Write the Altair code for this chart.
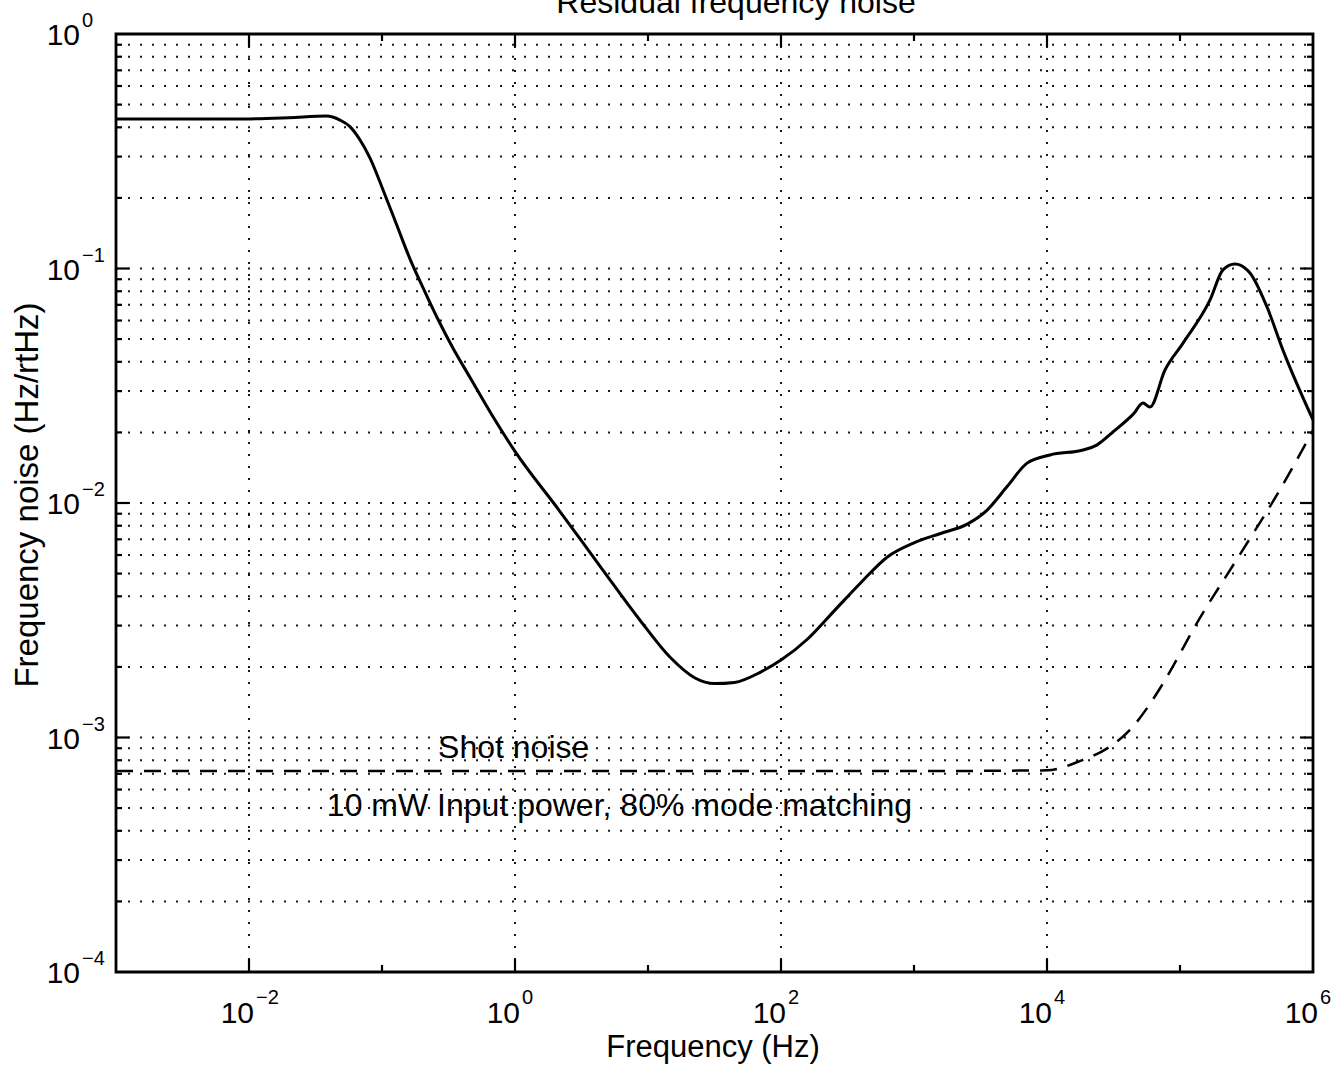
import altair as alt
import pandas as pd

W, H = 1197, 938
FONT = "Liberation Sans"

# ---- data (log10 values) ----
solid_logf = [-3.0, -2.5, -2.0, -1.7, -1.416, -1.316, -1.241, -1.165, -1.09, -0.992, -0.887,
              -0.789, -0.692, -0.587, -0.466, -0.338, -0.17, 0.0, 0.33, 0.64, 0.94, 1.17, 1.35,
              1.5, 1.65, 1.85, 2.0, 2.2, 2.4, 2.6, 2.8, 3.0, 3.2, 3.4, 3.55, 3.7, 3.85, 4.023,
              4.271, 4.374, 4.496, 4.65, 4.722, 4.774, 4.887, 5.023, 5.226, 5.323, 5.414, 5.504,
              5.526, 5.654, 5.774, 6.0]
solid_logy = [-0.363, -0.363, -0.362, -0.357, -0.350, -0.367, -0.395, -0.452, -0.529, -0.665,
              -0.818, -0.960, -1.082, -1.208, -1.340, -1.465, -1.628, -1.78, -2.03, -2.27, -2.50,
              -2.66, -2.745, -2.77, -2.765, -2.72, -2.67, -2.58, -2.46, -2.34, -2.23, -2.17, -2.13,
              -2.09, -2.03, -1.93, -1.83, -1.795, -1.774, -1.753, -1.697, -1.62, -1.574, -1.591,
              -1.433, -1.318, -1.134, -1.006, -0.981, -1.006, -1.019, -1.164, -1.348, -1.646]

dash_logf = [-3.0, 0.0, 3.0, 4.0, 4.25, 4.47, 4.62, 4.77, 4.85, 5.15, 5.45, 5.75, 6.0]
dash_logy = [-3.143, -3.143, -3.143, -3.14, -3.10, -3.04, -2.97, -2.86, -2.79, -2.49, -2.22, -1.945, -1.69]

x_label_exps = [-2, 0, 2, 4, 6]
y_label_exps = [0, -1, -2, -3, -4]
x_grid_exps = [-2, 0, 2, 4]
x_tick_exps = [-3, -2, -1, 0, 1, 2, 3, 4, 5, 6]
y_minor_mults = [2, 3, 4, 5, 6, 7, 8, 9]
y_decades = [-4, -3, -2, -1]

title_text = "Residual frequency noise"
x_title = "Frequency (Hz)"
y_title = "Frequency noise (Hz/rtHz)"
annotations = ["Shot noise", "10 mW Input power, 80% mode matching"]
annot_f = [0.264, 0.0385]
annot_v = [8.2e-4, 4.63e-4]

# ---- tables ----
solid = pd.DataFrame({"f": [10 ** a for a in solid_logf], "v": [10 ** b for b in solid_logy]})
dashed = pd.DataFrame({"f": [10 ** a for a in dash_logf], "v": [10 ** b for b in dash_logy]})
ygrid = pd.DataFrame({"v": [m * 10 ** d for d in y_decades for m in ([1] if d > -4 else []) + y_minor_mults]})
yminor = pd.DataFrame({"v": [m * 10 ** d for d in y_decades for m in y_minor_mults]})
ymajor = pd.DataFrame({"v": [10 ** d for d in y_decades[1:]]})
xgrid = pd.DataFrame({"f": [10.0 ** e for e in x_grid_exps]})
xlong = pd.DataFrame({"f": [10.0 ** e for e in x_tick_exps if e % 2 == 0 and -3 < e < 6]})
xshort = pd.DataFrame({"f": [10.0 ** e for e in x_tick_exps if e % 2 != 0 and -3 < e < 6]})
xlab = pd.DataFrame({"f": [10.0 ** e for e in x_label_exps],
                     "base": ["10"] * len(x_label_exps),
                     "exp": [str(e).replace("-", "\u2212") for e in x_label_exps]})
ylab = pd.DataFrame({"v": [10.0 ** e for e in y_label_exps],
                     "base": ["10"] * len(y_label_exps),
                     "exp": [str(e).replace("-", "\u2212") for e in y_label_exps]})
ann = pd.DataFrame({"f": annot_f, "v": annot_v, "t": annotations})

xs = alt.Scale(type="log", domain=[1e-3, 1e6], nice=False)
ys = alt.Scale(type="log", domain=[1e-4, 1], nice=False)


def X(field):
    return alt.X(f"{field}:Q", scale=xs, axis=None)


def Y(field):
    return alt.Y(f"{field}:Q", scale=ys, axis=None)


dot = dict(color="black", strokeWidth=2, strokeDash=[2, 10], opacity=0.9)

hgrid = alt.Chart(ygrid).mark_rule(**dot).encode(y=Y("v"), x=alt.value(0), x2=alt.value(W))
vgrid = alt.Chart(xgrid).mark_rule(**dot).encode(x=X("f"), y=alt.value(0), y2=alt.value(H))

tk = dict(color="black", strokeWidth=2.2)
ytick_layers = [
    alt.Chart(ymajor).mark_rule(**tk).encode(y=Y("v"), x=alt.value(0), x2=alt.value(13)),
    alt.Chart(ymajor).mark_rule(**tk).encode(y=Y("v"), x=alt.value(W - 13), x2=alt.value(W)),
    alt.Chart(yminor).mark_rule(**tk).encode(y=Y("v"), x=alt.value(0), x2=alt.value(6)),
    alt.Chart(yminor).mark_rule(**tk).encode(y=Y("v"), x=alt.value(W - 6), x2=alt.value(W)),
]
xtick_layers = [
    alt.Chart(xlong).mark_rule(**tk).encode(x=X("f"), y=alt.value(H - 13), y2=alt.value(H)),
    alt.Chart(xlong).mark_rule(**tk).encode(x=X("f"), y=alt.value(0), y2=alt.value(13)),
    alt.Chart(xshort).mark_rule(**tk).encode(x=X("f"), y=alt.value(H - 7), y2=alt.value(H)),
    alt.Chart(xshort).mark_rule(**tk).encode(x=X("f"), y=alt.value(0), y2=alt.value(7)),
]

solid_line = alt.Chart(solid).mark_line(color="black", strokeWidth=3, interpolate="monotone").encode(
    x=X("f"), y=Y("v"))
dashed_line = alt.Chart(dashed).mark_line(color="black", strokeWidth=2.5, strokeDash=[17, 11],
                                          interpolate="monotone").encode(x=X("f"), y=Y("v"))

txt = dict(font=FONT, color="black", baseline="alphabetic")
xl_base = alt.Chart(xlab).mark_text(align="right", dx=5, fontSize=30, **txt).encode(
    x=X("f"), y=alt.value(H + 51), text="base:N")
xl_exp = alt.Chart(xlab).mark_text(align="left", dx=7, fontSize=20, **txt).encode(
    x=X("f"), y=alt.value(H + 32), text="exp:N")
yl_base = alt.Chart(ylab).mark_text(align="right", dy=11, fontSize=30, **txt).encode(
    y=Y("v"), x=alt.value(-36), text="base:N")
yl_exp = alt.Chart(ylab).mark_text(align="left", dy=-7, fontSize=20, **txt).encode(
    y=Y("v"), x=alt.value(-34), text="exp:N")

ann_layer = alt.Chart(ann).mark_text(align="left", fontSize=32, **txt).encode(
    x=X("f"), y=Y("v"), text="t:N")

titles = pd.DataFrame({"t": [title_text]})
title_layer = alt.Chart(titles).mark_text(align="center", fontSize=32, **txt).encode(
    x=alt.value(620), y=alt.value(-21), text="t:N")
xt = alt.Chart(pd.DataFrame({"t": [x_title]})).mark_text(align="center", fontSize=31, **txt).encode(
    x=alt.value(597), y=alt.value(H + 85), text="t:N")
yt = alt.Chart(pd.DataFrame({"t": [y_title]})).mark_text(
    align="center", baseline="middle", angle=270, fontSize=33, font=FONT, color="black").encode(
    x=alt.value(-88), y=alt.value(461), text="t:N")

chart = alt.layer(
    hgrid, vgrid, *ytick_layers, *xtick_layers, dashed_line, solid_line,
    xl_base, xl_exp, yl_base, yl_exp, ann_layer, title_layer, xt, yt
).properties(
    width=W, height=H,
    autosize=alt.AutoSizeParams(type="none"),
    padding={"left": 116, "top": 34, "right": 28, "bottom": 96},
    background="white",
).configure_view(stroke="black", strokeWidth=2.8)

chart.save("out.html", embed_options={"renderer": "svg", "actions": False})
